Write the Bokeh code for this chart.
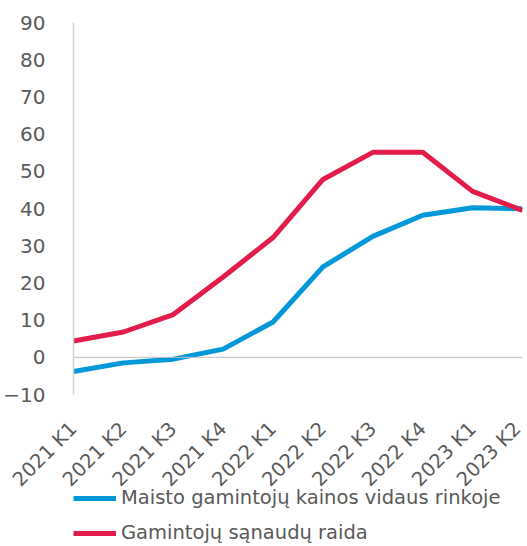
import math
from bokeh.plotting import figure
from bokeh.layouts import column
from bokeh.models import Range1d, FixedTicker, Span, Legend, LegendItem
from bokeh.embed import file_html
from bokeh.resources import INLINE

categories = ["2021 K1", "2021 K2", "2021 K3", "2021 K4", "2022 K1",
              "2022 K2", "2022 K3", "2022 K4", "2023 K1", "2023 K2"]
maisto = [-3.8, -1.5, -0.5, 2.2, 9.5, 24.3, 32.5, 38.2, 40.2, 39.9]
sanaudos = [4.4, 6.8, 11.5, 21.6, 32.2, 47.8, 55.1, 55.1, 44.6, 39.5]
y_ticks = [-10, 0, 10, 20, 30, 40, 50, 60, 70, 80, 90]
series_names = ["Maisto gamintojų kainos vidaus rinkoje", "Gamintojų sąnaudų raida"]

FONT = "DejaVu Sans"
TXT = "#595959"
BLUE = "#0098D8"
RED = "#E31D4B"
COLORS = [BLUE, RED]

xs = list(range(len(categories)))

p = figure(width=525, height=516, output_backend="svg", toolbar_location=None,
           x_range=Range1d(0, len(categories) - 1), y_range=Range1d(-10, 90),
           min_border_left=71, min_border_right=3, min_border_top=22, min_border_bottom=122)
p.outline_line_color = None
p.background_fill_color = "white"
p.border_fill_color = "white"
p.xgrid.visible = False
p.ygrid.visible = False

p.add_layout(Span(location=0, dimension="width", line_color="#bfbfbf", line_width=1))

p.line(xs, maisto, line_color=BLUE, line_width=5)
p.line(xs, sanaudos, line_color=RED, line_width=5)

# y axis
ya = p.yaxis[0]
ya.ticker = FixedTicker(ticks=y_ticks)
ya.bounds = (-10, 90)
ya.axis_line_color = "#d0d0d0"
ya.axis_line_width = 1.5
ya.major_tick_line_color = None
ya.minor_tick_line_color = None
ya.major_label_text_font = FONT
ya.major_label_text_font_size = "20px"
ya.major_label_text_color = TXT
ya.major_label_standoff = 22

# x axis
xa = p.xaxis[0]
xa.ticker = FixedTicker(ticks=xs)
xa.major_label_overrides = {i: c for i, c in enumerate(categories)}
xa.major_label_orientation = math.pi / 4
xa.axis_line_color = None
xa.major_tick_line_color = None
xa.minor_tick_line_color = None
xa.major_label_text_font = FONT
xa.major_label_text_font_size = "19.5px"
xa.major_label_text_color = TXT
xa.major_label_standoff = 25

# legend in a separate strip below, pulled up over the empty bottom border
q = figure(width=525, height=56, output_backend="svg", toolbar_location=None,
           x_range=Range1d(0, 1), y_range=Range1d(0, 1),
           min_border=0, x_axis_location=None, y_axis_location=None)
q.margin = (-28, 0, 0, 0)
q.outline_line_color = None
q.background_fill_alpha = 0
q.border_fill_alpha = 0
q.xgrid.visible = False
q.ygrid.visible = False
items = []
for name, col in zip(series_names, COLORS):
    r = q.line([5, 6], [5, 5], line_color=col, line_width=5)
    items.append(LegendItem(label=name, renderers=[r]))

legend = Legend(items=items, location=(0, 0), orientation="vertical",
                padding=0, margin=0, spacing=12,
                glyph_width=43, glyph_height=20, label_height=20,
                label_standoff=5,
                label_text_font=FONT, label_text_font_size="19.5px",
                label_text_color=TXT,
                background_fill_alpha=0, border_line_color=None)
q.add_layout(legend, "center")

layout = column(p, q, spacing=0)
open("out.html", "w").write(file_html(layout, INLINE))
